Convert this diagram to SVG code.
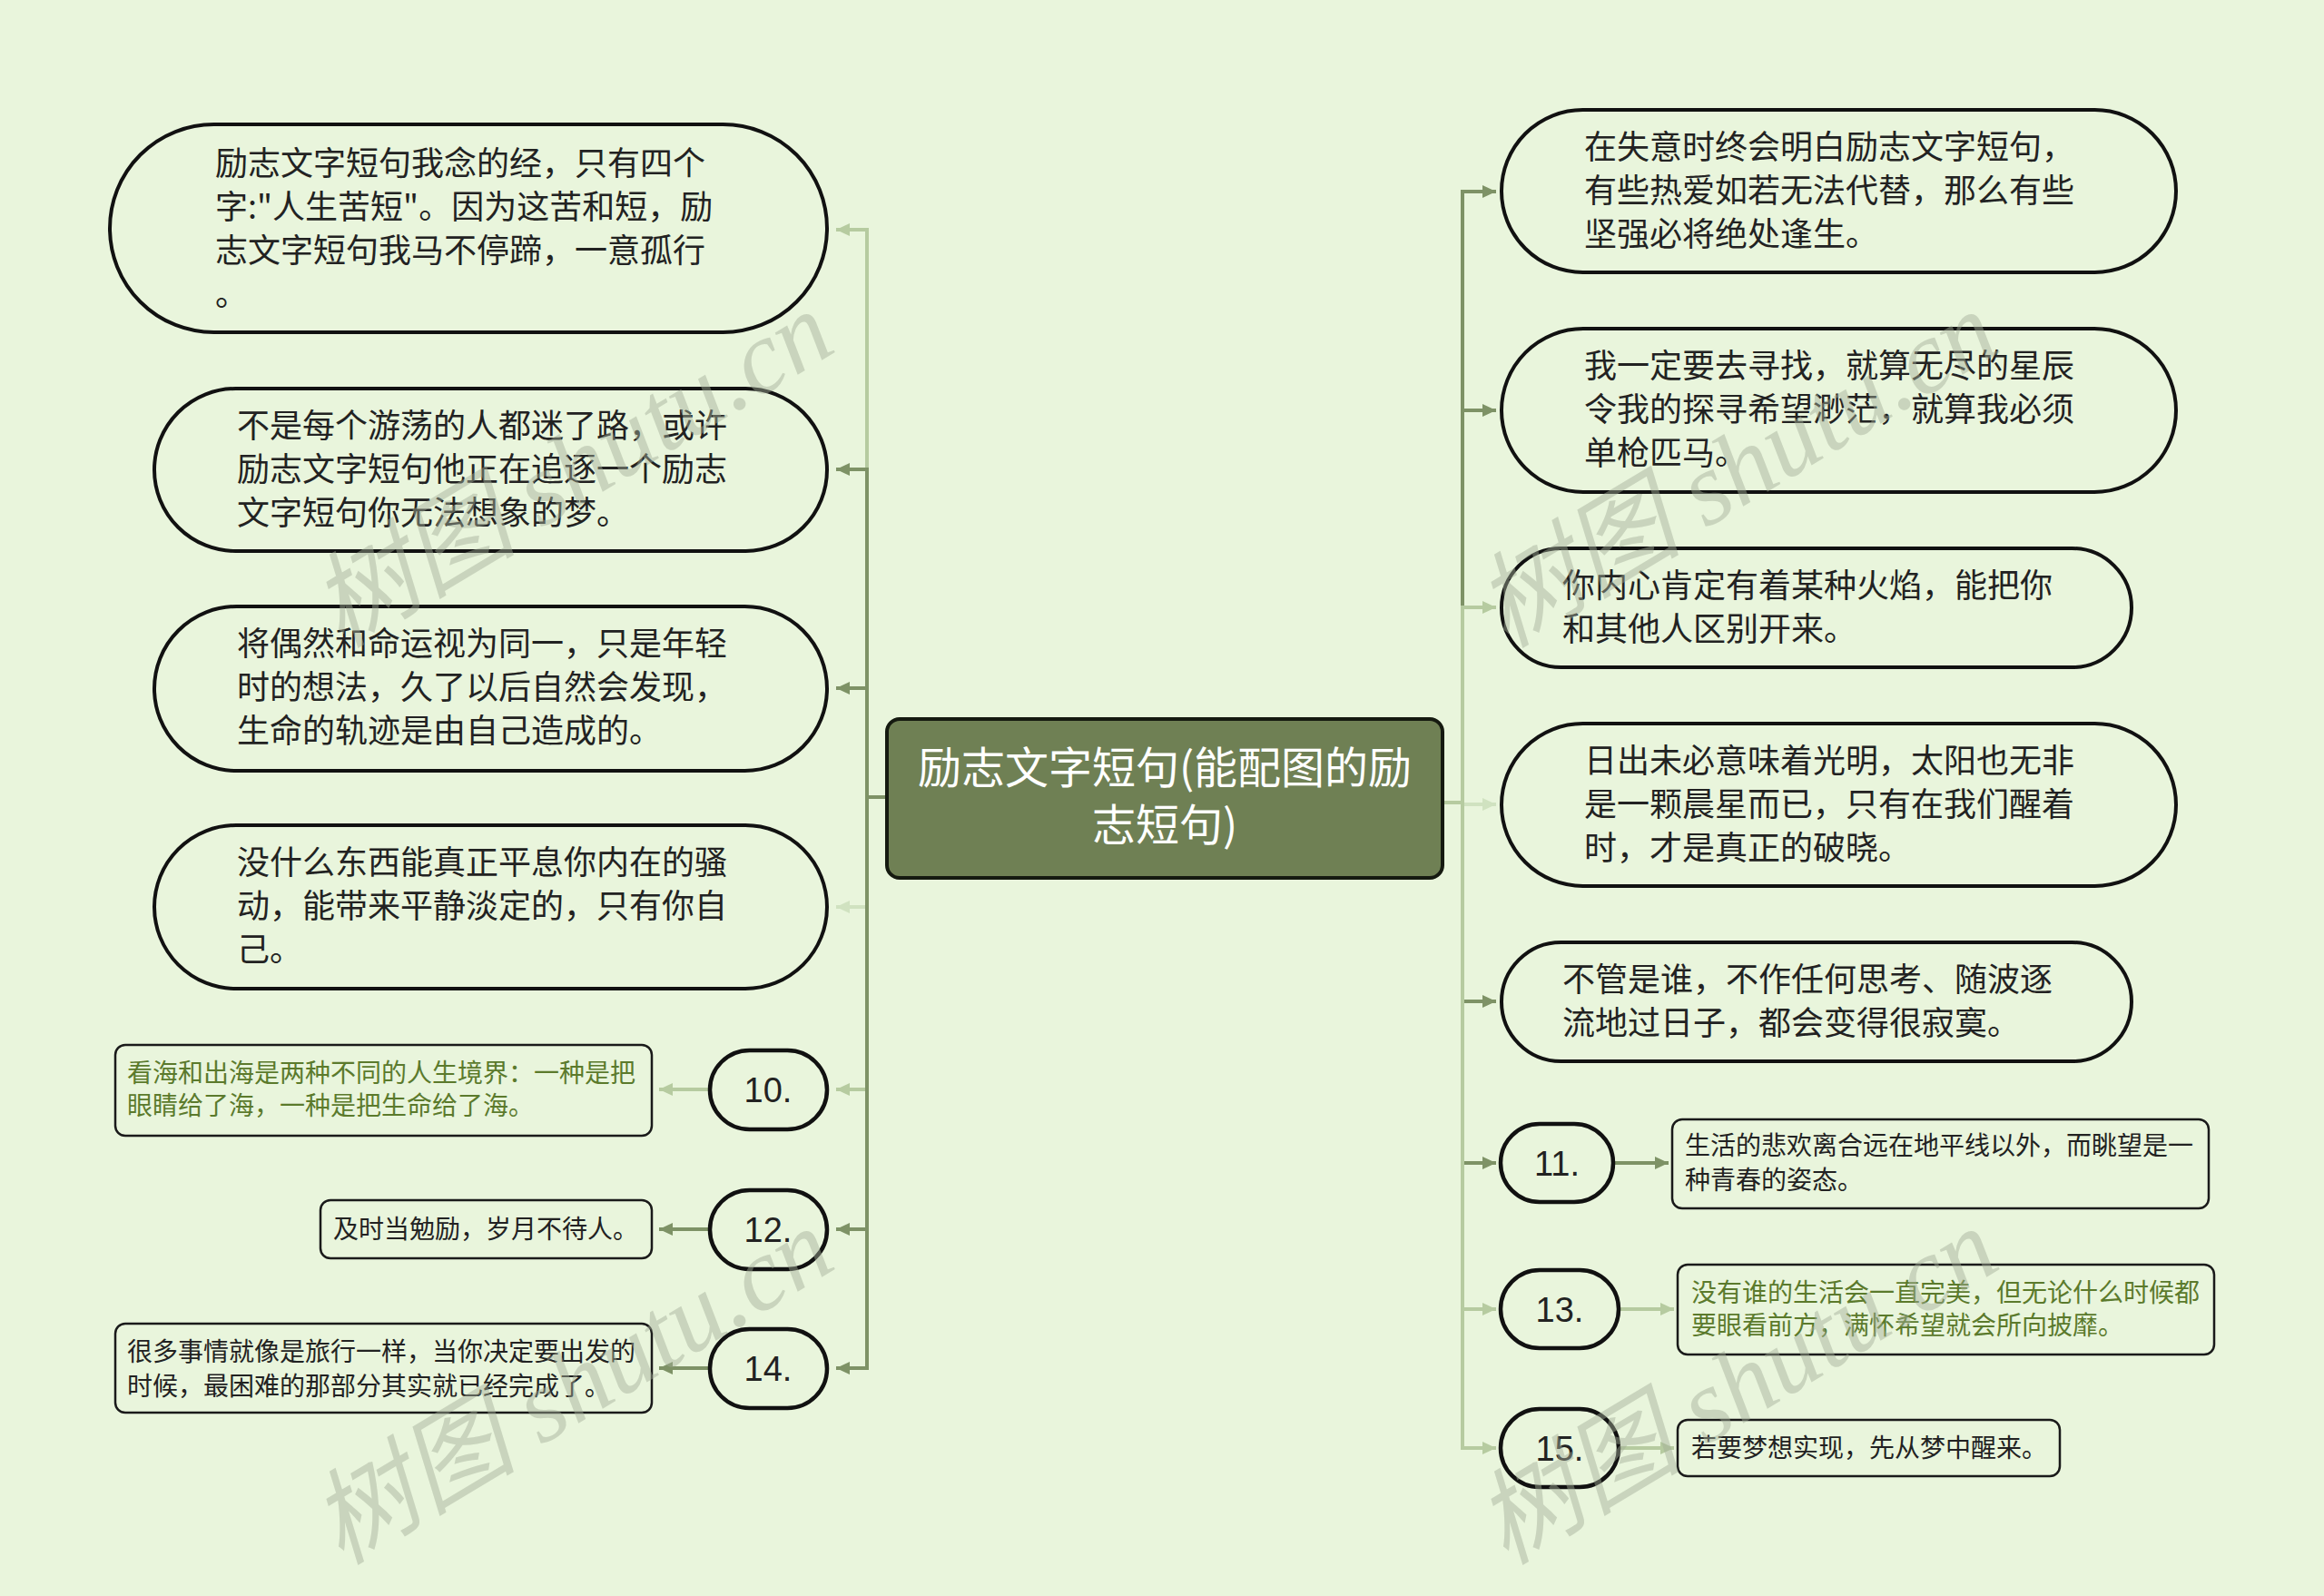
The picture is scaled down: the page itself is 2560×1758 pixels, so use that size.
<svg xmlns="http://www.w3.org/2000/svg" width="2560" height="1758" viewBox="0 0 2560 1758">
<defs>
<style>
.bg{fill:#e9f5dc}
.big{fill:none;stroke:#111;stroke-width:4}
.num{fill:none;stroke:#111;stroke-width:4.5}
.box{fill:none;stroke:#1a1a1a;stroke-width:2.5}
.t{font-family:"Noto Sans CJK SC","Noto Sans",sans-serif;font-size:36px;fill:#222}
.s{font-family:"Noto Sans CJK SC","Noto Sans",sans-serif;font-size:28px;fill:#222}
.g{fill:#5b7a2c}
.n{font-family:"Liberation Sans","Noto Sans",sans-serif;font-size:38px;fill:#222;text-anchor:middle}
.c{fill:none;stroke-width:4}
.dk{stroke:#7e9266}
.lt{stroke:#b6cba0}
.vl{stroke:#d0e2c0}
.wm{font-family:"Liberation Serif","Noto Sans CJK SC",serif;font-style:italic;font-size:114px;fill:#a3ae98;opacity:0.45;text-anchor:middle}
</style>
<marker id="ad" markerUnits="userSpaceOnUse" markerWidth="16" markerHeight="14" refX="15" refY="7" orient="auto"><path d="M0,0 L15,7 L0,14 z" fill="#7e9266"/></marker>
<marker id="al" markerUnits="userSpaceOnUse" markerWidth="16" markerHeight="14" refX="15" refY="7" orient="auto"><path d="M0,0 L15,7 L0,14 z" fill="#b6cba0"/></marker>
<marker id="av" markerUnits="userSpaceOnUse" markerWidth="16" markerHeight="14" refX="15" refY="7" orient="auto"><path d="M0,0 L15,7 L0,14 z" fill="#d0e2c0"/></marker>
</defs>
<rect class="bg" x="0" y="0" width="2560" height="1758"/>

<g id="connectors">
<path class="c lt" d="M976,878 H955 V253 H921" marker-end="url(#al)"/>
<path class="c dk" d="M976,878 H955 V517 H921" marker-end="url(#ad)"/>
<path class="c dk" d="M976,878 H955 V758 H921" marker-end="url(#ad)"/>
<path class="c vl" d="M976,878 H955 V999 H921" marker-end="url(#av)"/>
<path class="c lt" d="M976,878 H955 V1200 H921" marker-end="url(#al)"/>
<path class="c dk" d="M976,878 H955 V1354 H921" marker-end="url(#ad)"/>
<path class="c dk" d="M976,878 H955 V1507 H921" marker-end="url(#ad)"/>
<path class="c dk" d="M1589,884 H1611 V211 H1648" marker-end="url(#ad)"/>
<path class="c dk" d="M1589,884 H1611 V452 H1648" marker-end="url(#ad)"/>
<path class="c lt" d="M1589,884 H1611 V669 H1648" marker-end="url(#al)"/>
<path class="c vl" d="M1589,884 H1611 V886 H1648" marker-end="url(#av)"/>
<path class="c dk" d="M1589,884 H1611 V1103 H1648" marker-end="url(#ad)"/>
<path class="c dk" d="M1589,884 H1611 V1281 H1648" marker-end="url(#ad)"/>
<path class="c lt" d="M1589,884 H1611 V1442 H1648" marker-end="url(#al)"/>
<path class="c lt" d="M1589,884 H1611 V1595 H1648" marker-end="url(#al)"/>
<path class="c lt" d="M782,1200 H726" marker-end="url(#al)"/>
<path class="c dk" d="M782,1354 H726" marker-end="url(#ad)"/>
<path class="c dk" d="M782,1507 H726" marker-end="url(#ad)"/>
<path class="c dk" d="M1777,1281 H1838" marker-end="url(#ad)"/>
<path class="c lt" d="M1783,1442 H1844" marker-end="url(#al)"/>
<path class="c lt" d="M1783,1595 H1844" marker-end="url(#al)"/>
</g>

<g id="center">
<rect x="977" y="792" width="612" height="175" rx="14" fill="#6f8054" stroke="#151a10" stroke-width="4"/>
<text x="1283" y="863" text-anchor="middle" style="font-family:'Noto Sans CJK SC','Noto Sans',sans-serif;font-size:48px;fill:#fff">励志文字短句(能配图的励</text>
<text x="1283" y="926" text-anchor="middle" style="font-family:'Noto Sans CJK SC','Noto Sans',sans-serif;font-size:48px;fill:#fff">志短句)</text>
</g>

<g id="L1">
<rect class="big" x="121" y="137" width="790" height="229" rx="114.5"/>
<text class="t" x="237" y="193">励志文字短句我念的经，只有四个</text>
<text class="t" x="237" y="241">字:"人生苦短"。因为这苦和短，励</text>
<text class="t" x="237" y="289">志文字短句我马不停蹄，一意孤行</text>
<text class="t" x="237" y="337">。</text>
</g>
<g id="L2">
<rect class="big" x="170" y="428" width="741" height="179" rx="89.5"/>
<text class="t" x="261" y="482">不是每个游荡的人都迷了路，或许</text>
<text class="t" x="261" y="530">励志文字短句他正在追逐一个励志</text>
<text class="t" x="261" y="578">文字短句你无法想象的梦。</text>
</g>
<g id="L3">
<rect class="big" x="170" y="668" width="741" height="181" rx="90.5"/>
<text class="t" x="261" y="722">将偶然和命运视为同一，只是年轻</text>
<text class="t" x="261" y="770">时的想法，久了以后自然会发现，</text>
<text class="t" x="261" y="818">生命的轨迹是由自己造成的。</text>
</g>
<g id="L4">
<rect class="big" x="170" y="909" width="741" height="180" rx="90"/>
<text class="t" x="261" y="963">没什么东西能真正平息你内在的骚</text>
<text class="t" x="261" y="1011">动，能带来平静淡定的，只有你自</text>
<text class="t" x="261" y="1059">己。</text>
</g>
<g id="N10">
<rect class="num" x="782" y="1157" width="129" height="87" rx="43.5"/>
<text class="n" x="846" y="1214">10.</text>
</g>
<g id="B10">
<rect class="box" x="127" y="1151" width="591" height="100" rx="11"/>
<text class="s g" x="140" y="1192">看海和出海是两种不同的人生境界：一种是把</text>
<text class="s g" x="140" y="1228">眼睛给了海，一种是把生命给了海。</text>
</g>
<g id="N12">
<rect class="num" x="782" y="1311" width="129" height="87" rx="43.5"/>
<text class="n" x="846" y="1368">12.</text>
</g>
<g id="B12">
<rect class="box" x="353" y="1322" width="365" height="64" rx="11"/>
<text class="s" x="367" y="1364">及时当勉励，岁月不待人。</text>
</g>
<g id="N14">
<rect class="num" x="782" y="1464" width="129" height="87" rx="43.5"/>
<text class="n" x="846" y="1521">14.</text>
</g>
<g id="B14">
<rect class="box" x="127" y="1458" width="591" height="98" rx="11"/>
<text class="s" x="140" y="1499">很多事情就像是旅行一样，当你决定要出发的</text>
<text class="s" x="140" y="1537">时候，最困难的那部分其实就已经完成了。</text>
</g>

<g id="R1">
<rect class="big" x="1654" y="121" width="743" height="179" rx="89.5"/>
<text class="t" x="1745" y="175">在失意时终会明白励志文字短句，</text>
<text class="t" x="1745" y="223">有些热爱如若无法代替，那么有些</text>
<text class="t" x="1745" y="271">坚强必将绝处逢生。</text>
</g>
<g id="R2">
<rect class="big" x="1654" y="362" width="743" height="180" rx="90"/>
<text class="t" x="1745" y="416">我一定要去寻找，就算无尽的星辰</text>
<text class="t" x="1745" y="464">令我的探寻希望渺茫，就算我必须</text>
<text class="t" x="1745" y="512">单枪匹马。</text>
</g>
<g id="R3">
<rect class="big" x="1654" y="604" width="694" height="131" rx="65.5"/>
<text class="t" x="1721" y="658">你内心肯定有着某种火焰，能把你</text>
<text class="t" x="1721" y="706">和其他人区别开来。</text>
</g>
<g id="R4">
<rect class="big" x="1654" y="797" width="743" height="179" rx="89.5"/>
<text class="t" x="1745" y="851">日出未必意味着光明，太阳也无非</text>
<text class="t" x="1745" y="899">是一颗晨星而已，只有在我们醒着</text>
<text class="t" x="1745" y="947">时，才是真正的破晓。</text>
</g>
<g id="R5">
<rect class="big" x="1654" y="1038" width="694" height="131" rx="65.5"/>
<text class="t" x="1721" y="1092">不管是谁，不作任何思考、随波逐</text>
<text class="t" x="1721" y="1140">流地过日子，都会变得很寂寞。</text>
</g>
<g id="N11">
<rect class="num" x="1653" y="1238" width="124" height="86" rx="43"/>
<text class="n" x="1715" y="1295">11.</text>
</g>
<g id="B11">
<rect class="box" x="1842" y="1233" width="591" height="98" rx="11"/>
<text class="s" x="1856" y="1272">生活的悲欢离合远在地平线以外，而眺望是一</text>
<text class="s" x="1856" y="1310">种青春的姿态。</text>
</g>
<g id="N13">
<rect class="num" x="1653" y="1399" width="130" height="86" rx="43"/>
<text class="n" x="1718" y="1456">13.</text>
</g>
<g id="B13">
<rect class="box" x="1848" y="1393" width="591" height="99" rx="11"/>
<text class="s g" x="1863" y="1434">没有谁的生活会一直完美，但无论什么时候都</text>
<text class="s g" x="1863" y="1470">要眼看前方，满怀希望就会所向披靡。</text>
</g>
<g id="N15">
<rect class="num" x="1653" y="1552" width="130" height="86" rx="43"/>
<text class="n" x="1718" y="1609">15.</text>
</g>
<g id="B15">
<rect class="box" x="1848" y="1564" width="421" height="62" rx="11"/>
<text class="s" x="1863" y="1605">若要梦想实现，先从梦中醒来。</text>
</g>

<g id="watermarks">
<text class="wm" transform="translate(650,550) rotate(-31)">树图 shutu.cn</text>
<text class="wm" transform="translate(1933,550) rotate(-31)">树图 shutu.cn</text>
<text class="wm" transform="translate(650,1560) rotate(-31)">树图 shutu.cn</text>
<text class="wm" transform="translate(1933,1560) rotate(-31)">树图 shutu.cn</text>
</g>
</svg>
